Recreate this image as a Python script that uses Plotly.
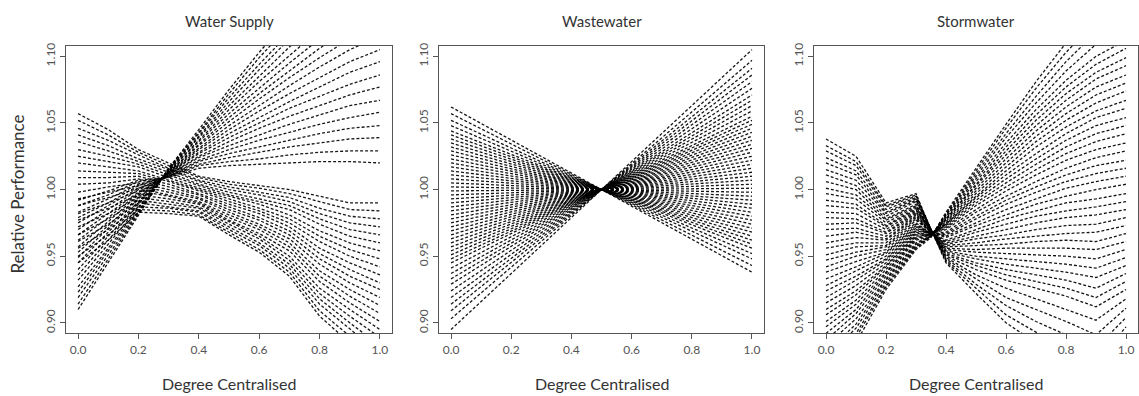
import plotly.graph_objects as go

# ---------------- data ----------------
x_levels = [0.0, 0.1, 0.2, 0.3, 0.4, 0.5, 0.6, 0.7, 0.8, 0.9, 1.0]

# Water Supply: lines that rise towards high centralisation
supply_rising = [
    [0.910, 0.945, 0.980, 1.016, 1.045, 1.075, 1.103, 1.130, 1.155, 1.180, 1.200],
    [0.914, 0.948, 0.981, 1.016, 1.043, 1.072, 1.099, 1.124, 1.148, 1.172, 1.191],
    [0.919, 0.951, 0.983, 1.015, 1.042, 1.069, 1.094, 1.118, 1.141, 1.163, 1.181],
    [0.923, 0.954, 0.984, 1.015, 1.040, 1.066, 1.090, 1.113, 1.134, 1.155, 1.172],
    [0.927, 0.956, 0.986, 1.015, 1.039, 1.063, 1.085, 1.107, 1.127, 1.147, 1.162],
    [0.932, 0.959, 0.987, 1.014, 1.037, 1.060, 1.081, 1.101, 1.120, 1.138, 1.153],
    [0.936, 0.962, 0.989, 1.014, 1.036, 1.057, 1.076, 1.095, 1.113, 1.130, 1.143],
    [0.940, 0.965, 0.990, 1.013, 1.034, 1.054, 1.072, 1.089, 1.106, 1.121, 1.134],
    [0.945, 0.968, 0.991, 1.013, 1.033, 1.051, 1.068, 1.084, 1.099, 1.113, 1.124],
    [0.949, 0.971, 0.993, 1.013, 1.031, 1.048, 1.063, 1.078, 1.092, 1.105, 1.115],
    [0.953, 0.973, 0.994, 1.012, 1.030, 1.045, 1.059, 1.072, 1.084, 1.096, 1.105],
    [0.957, 0.976, 0.996, 1.012, 1.028, 1.042, 1.054, 1.066, 1.077, 1.088, 1.096],
    [0.962, 0.979, 0.997, 1.012, 1.027, 1.039, 1.050, 1.061, 1.070, 1.079, 1.086],
    [0.966, 0.982, 0.998, 1.011, 1.025, 1.036, 1.046, 1.055, 1.063, 1.071, 1.077],
    [0.970, 0.985, 1.000, 1.011, 1.024, 1.033, 1.041, 1.049, 1.056, 1.063, 1.067],
    [0.975, 0.988, 1.001, 1.010, 1.022, 1.030, 1.037, 1.043, 1.049, 1.054, 1.058],
    [0.979, 0.990, 1.003, 1.010, 1.021, 1.027, 1.032, 1.037, 1.042, 1.046, 1.048],
    [0.983, 0.993, 1.004, 1.010, 1.019, 1.024, 1.028, 1.032, 1.035, 1.038, 1.039],
    [0.988, 0.996, 1.006, 1.009, 1.018, 1.021, 1.023, 1.026, 1.028, 1.029, 1.029],
    [0.992, 0.999, 1.007, 1.009, 1.016, 1.018, 1.019, 1.020, 1.021, 1.021, 1.020],
]
# Water Supply: lines that fall towards high centralisation
supply_falling = [
    [0.945, 0.962, 0.983, 0.982, 0.980, 0.966, 0.953, 0.935, 0.905, 0.885, 0.865],
    [0.950, 0.966, 0.985, 0.984, 0.981, 0.968, 0.955, 0.938, 0.909, 0.890, 0.871],
    [0.956, 0.970, 0.987, 0.986, 0.983, 0.970, 0.958, 0.941, 0.914, 0.895, 0.877],
    [0.961, 0.974, 0.990, 0.987, 0.984, 0.972, 0.960, 0.944, 0.918, 0.900, 0.883],
    [0.966, 0.978, 0.992, 0.989, 0.986, 0.974, 0.963, 0.947, 0.922, 0.905, 0.889],
    [0.972, 0.982, 0.994, 0.991, 0.987, 0.976, 0.965, 0.950, 0.926, 0.910, 0.895],
    [0.977, 0.986, 0.996, 0.993, 0.989, 0.977, 0.967, 0.954, 0.931, 0.915, 0.901],
    [0.982, 0.990, 0.999, 0.995, 0.990, 0.979, 0.970, 0.957, 0.935, 0.920, 0.907],
    [0.988, 0.994, 1.001, 0.996, 0.991, 0.981, 0.972, 0.960, 0.939, 0.925, 0.913],
    [0.993, 0.998, 1.003, 0.998, 0.993, 0.983, 0.974, 0.963, 0.944, 0.930, 0.919],
    [0.998, 1.002, 1.005, 1.000, 0.994, 0.985, 0.977, 0.966, 0.948, 0.935, 0.925],
    [1.004, 1.005, 1.008, 1.002, 0.996, 0.987, 0.979, 0.969, 0.952, 0.940, 0.930],
    [1.009, 1.009, 1.010, 1.004, 0.997, 0.989, 0.982, 0.972, 0.956, 0.945, 0.936],
    [1.014, 1.013, 1.012, 1.006, 0.999, 0.991, 0.984, 0.975, 0.961, 0.950, 0.942],
    [1.020, 1.017, 1.014, 1.007, 1.000, 0.993, 0.986, 0.978, 0.965, 0.955, 0.948],
    [1.025, 1.021, 1.017, 1.009, 1.001, 0.995, 0.989, 0.981, 0.969, 0.960, 0.954],
    [1.030, 1.025, 1.019, 1.011, 1.003, 0.996, 0.991, 0.985, 0.974, 0.965, 0.960],
    [1.036, 1.029, 1.021, 1.013, 1.004, 0.998, 0.993, 0.988, 0.978, 0.970, 0.966],
    [1.041, 1.033, 1.023, 1.015, 1.006, 1.000, 0.996, 0.991, 0.982, 0.975, 0.972],
    [1.046, 1.037, 1.026, 1.016, 1.007, 1.002, 0.998, 0.994, 0.986, 0.980, 0.978],
    [1.052, 1.041, 1.028, 1.018, 1.009, 1.004, 1.001, 0.997, 0.991, 0.985, 0.984],
    [1.057, 1.045, 1.030, 1.020, 1.010, 1.006, 1.003, 1.000, 0.995, 0.990, 0.990],
]

# Wastewater: straight lines, value at 0.0 and at 1.0
waste_x = [0.0, 1.0]
waste_start = [1.062, 1.057, 1.052, 1.048, 1.044, 1.041, 1.038, 1.035, 1.032, 1.029,
               1.026, 1.023, 1.020, 1.017, 1.014, 1.011, 1.008, 1.005, 1.002, 0.999,
               0.996, 0.993, 0.990, 0.987, 0.984, 0.981, 0.978, 0.975, 0.972, 0.969,
               0.966, 0.963, 0.960, 0.957, 0.954, 0.951, 0.948, 0.945, 0.941, 0.937,
               0.933, 0.929, 0.924, 0.919, 0.914, 0.909, 0.903, 0.895]
waste_end = [0.938, 0.943, 0.948, 0.952, 0.956, 0.959, 0.962, 0.965, 0.968, 0.971,
             0.974, 0.977, 0.980, 0.983, 0.986, 0.989, 0.992, 0.995, 0.998, 1.001,
             1.004, 1.007, 1.010, 1.013, 1.016, 1.019, 1.022, 1.025, 1.028, 1.031,
             1.034, 1.037, 1.040, 1.043, 1.046, 1.049, 1.052, 1.055, 1.059, 1.063,
             1.067, 1.071, 1.076, 1.081, 1.086, 1.091, 1.097, 1.105]

# Stormwater
storm_x = [0.0, 0.1, 0.2, 0.3, 0.35, 0.4, 0.5, 0.6, 0.7, 0.8, 0.9, 1.0]
storm_lines = [
    [1.038, 1.025, 0.990, 0.997, 0.970, 0.945, 0.922, 0.900, 0.885, 0.872, 0.860, 0.890],
    [1.033, 1.021, 0.988, 0.996, 0.970, 0.946, 0.926, 0.906, 0.893, 0.882, 0.870, 0.897],
    [1.029, 1.018, 0.987, 0.995, 0.970, 0.947, 0.929, 0.913, 0.901, 0.891, 0.881, 0.904],
    [1.024, 1.014, 0.985, 0.994, 0.970, 0.948, 0.933, 0.919, 0.910, 0.901, 0.891, 0.911],
    [1.020, 1.011, 0.983, 0.993, 0.970, 0.949, 0.936, 0.926, 0.918, 0.910, 0.902, 0.918],
    [1.015, 1.007, 0.982, 0.992, 0.970, 0.950, 0.940, 0.932, 0.926, 0.920, 0.912, 0.925],
    [1.011, 1.003, 0.980, 0.991, 0.970, 0.951, 0.943, 0.936, 0.931, 0.926, 0.919, 0.931],
    [1.006, 1.000, 0.978, 0.989, 0.969, 0.952, 0.945, 0.940, 0.936, 0.932, 0.926, 0.937],
    [1.001, 0.996, 0.977, 0.988, 0.969, 0.953, 0.948, 0.944, 0.941, 0.938, 0.934, 0.943],
    [0.997, 0.993, 0.975, 0.987, 0.969, 0.954, 0.950, 0.948, 0.946, 0.944, 0.941, 0.949],
    [0.992, 0.989, 0.973, 0.986, 0.969, 0.955, 0.953, 0.952, 0.951, 0.950, 0.948, 0.955],
    [0.988, 0.986, 0.972, 0.985, 0.969, 0.956, 0.955, 0.956, 0.956, 0.956, 0.955, 0.961],
    [0.983, 0.982, 0.970, 0.984, 0.969, 0.957, 0.958, 0.959, 0.961, 0.962, 0.961, 0.967],
    [0.979, 0.978, 0.968, 0.983, 0.969, 0.958, 0.960, 0.963, 0.965, 0.967, 0.968, 0.973],
    [0.974, 0.975, 0.967, 0.982, 0.968, 0.959, 0.963, 0.966, 0.970, 0.973, 0.974, 0.979],
    [0.970, 0.971, 0.965, 0.981, 0.968, 0.960, 0.965, 0.970, 0.975, 0.979, 0.981, 0.985],
    [0.965, 0.968, 0.963, 0.980, 0.968, 0.961, 0.968, 0.974, 0.980, 0.984, 0.987, 0.991],
    [0.960, 0.964, 0.962, 0.979, 0.968, 0.962, 0.970, 0.978, 0.984, 0.990, 0.993, 0.997],
    [0.956, 0.960, 0.960, 0.978, 0.968, 0.964, 0.973, 0.981, 0.989, 0.995, 1.000, 1.004],
    [0.951, 0.957, 0.958, 0.977, 0.968, 0.965, 0.975, 0.985, 0.993, 1.001, 1.006, 1.010],
    [0.947, 0.953, 0.957, 0.975, 0.967, 0.966, 0.978, 0.989, 0.998, 1.006, 1.012, 1.016],
    [0.942, 0.950, 0.955, 0.974, 0.967, 0.967, 0.980, 0.992, 1.002, 1.011, 1.018, 1.022],
    [0.938, 0.946, 0.953, 0.973, 0.967, 0.968, 0.983, 0.995, 1.006, 1.016, 1.024, 1.029],
    [0.933, 0.942, 0.952, 0.972, 0.967, 0.970, 0.985, 0.999, 1.011, 1.022, 1.030, 1.035],
    [0.928, 0.939, 0.950, 0.971, 0.967, 0.971, 0.988, 1.002, 1.015, 1.027, 1.036, 1.042],
    [0.924, 0.935, 0.948, 0.970, 0.967, 0.972, 0.990, 1.005, 1.019, 1.032, 1.042, 1.048],
    [0.919, 0.932, 0.947, 0.969, 0.967, 0.973, 0.992, 1.008, 1.023, 1.037, 1.048, 1.054],
    [0.915, 0.928, 0.945, 0.968, 0.966, 0.974, 0.994, 1.011, 1.027, 1.042, 1.054, 1.061],
    [0.910, 0.924, 0.943, 0.967, 0.966, 0.974, 0.995, 1.014, 1.032, 1.047, 1.059, 1.067],
    [0.906, 0.921, 0.942, 0.966, 0.966, 0.975, 0.997, 1.017, 1.036, 1.052, 1.065, 1.074],
    [0.901, 0.917, 0.940, 0.965, 0.966, 0.976, 0.999, 1.020, 1.040, 1.057, 1.071, 1.080],
    [0.897, 0.914, 0.938, 0.964, 0.966, 0.977, 1.001, 1.023, 1.044, 1.062, 1.077, 1.086],
    [0.892, 0.910, 0.937, 0.963, 0.966, 0.978, 1.003, 1.026, 1.048, 1.067, 1.083, 1.093],
    [0.887, 0.907, 0.935, 0.962, 0.965, 0.978, 1.004, 1.029, 1.052, 1.072, 1.088, 1.099],
    [0.883, 0.903, 0.933, 0.960, 0.965, 0.979, 1.006, 1.032, 1.056, 1.077, 1.094, 1.106],
    [0.878, 0.899, 0.932, 0.959, 0.965, 0.980, 1.008, 1.035, 1.060, 1.082, 1.100, 1.112],
    [0.874, 0.896, 0.930, 0.958, 0.965, 0.981, 1.010, 1.039, 1.065, 1.089, 1.109, 1.123],
    [0.869, 0.892, 0.928, 0.957, 0.965, 0.981, 1.012, 1.042, 1.070, 1.096, 1.118, 1.134],
    [0.865, 0.889, 0.927, 0.956, 0.965, 0.982, 1.014, 1.046, 1.076, 1.103, 1.126, 1.144],
    [0.860, 0.885, 0.925, 0.955, 0.964, 0.983, 1.016, 1.049, 1.081, 1.110, 1.135, 1.155],
]

panel_titles = ["Water Supply", "Wastewater", "Stormwater"]
x_ticks = [0.0, 0.2, 0.4, 0.6, 0.8, 1.0]
y_ticks = [0.90, 0.95, 1.00, 1.05, 1.10]

# ---------------- figure ----------------
W, H = 1139, 396
FONT = "Lato, 'Open Sans', sans-serif"
line_style = dict(color="#000000", width=1.3, dash="3px,2px")

fig = go.Figure()


def add_lines(xs, ys_list, axis_idx):
    xa = "x" if axis_idx == 1 else f"x{axis_idx}"
    ya = "y" if axis_idx == 1 else f"y{axis_idx}"
    for ys in ys_list:
        fig.add_trace(go.Scatter(x=xs, y=ys, mode="lines", line=line_style,
                                 opacity=0.9, xaxis=xa, yaxis=ya, showlegend=False,
                                 hoverinfo="skip"))


add_lines(x_levels, supply_rising + supply_falling, 1)
add_lines(waste_x, [[s, e] for s, e in zip(waste_start, waste_end)], 2)
add_lines(storm_x, storm_lines, 3)

# panel pixel boxes (left, right)
boxes = [(66, 392), (439, 764), (814, 1138)]
top_px, bot_px = 43, 333
ydom = [1 - bot_px / H, 1 - top_px / H]

axis_common = dict(showline=True, mirror=True, linecolor="#555", linewidth=1,
                   ticks="outside", ticklen=5, tickcolor="#555", showgrid=False,
                   zeroline=False, tickfont=dict(family=FONT, size=12, color="#555"))

for i, (l, r) in enumerate(boxes, start=1):
    xkey = "xaxis" if i == 1 else f"xaxis{i}"
    ykey = "yaxis" if i == 1 else f"yaxis{i}"
    fig.update_layout({
        xkey: dict(domain=[l / W, r / W], range=[-0.04, 1.04], tickvals=x_ticks,
                   ticktext=[f"{v:.1f}" for v in x_ticks],
                   anchor="y" if i == 1 else f"y{i}", **axis_common),
        ykey: dict(domain=ydom, range=[0.892, 1.108], tickvals=y_ticks,
                   ticktext=[f"{v:.2f}" for v in y_ticks], tickangle=-90,
                   anchor="x" if i == 1 else f"x{i}", **axis_common),
    })
    cx = (l + r) / 2 / W
    fig.add_annotation(text=panel_titles[i - 1], x=cx, y=1 - 18 / H, xref="paper",
                       yref="paper", showarrow=False, xanchor="center", yanchor="middle",
                       font=dict(family=FONT, size=15, color="#333"))
    fig.add_annotation(text="Degree Centralised", x=cx, y=1 - 383 / H, xref="paper",
                       yref="paper", showarrow=False, xanchor="center", yanchor="middle",
                       font=dict(family=FONT, size=16, color="#333"))

fig.add_annotation(text="Relative Performance", x=18 / W, y=1 - 193 / H, xref="paper",
                   yref="paper", showarrow=False, textangle=-90, xanchor="center",
                   yanchor="middle", font=dict(family=FONT, size=17, color="#333"))

fig.update_layout(width=W, height=H, margin=dict(l=0, r=0, t=0, b=0),
                  paper_bgcolor="white", plot_bgcolor="white")

fig.write_html("out.html", config={"displayModeBar": False},
               post_script="document.body.style.margin='0';document.body.style.overflow='hidden';")
